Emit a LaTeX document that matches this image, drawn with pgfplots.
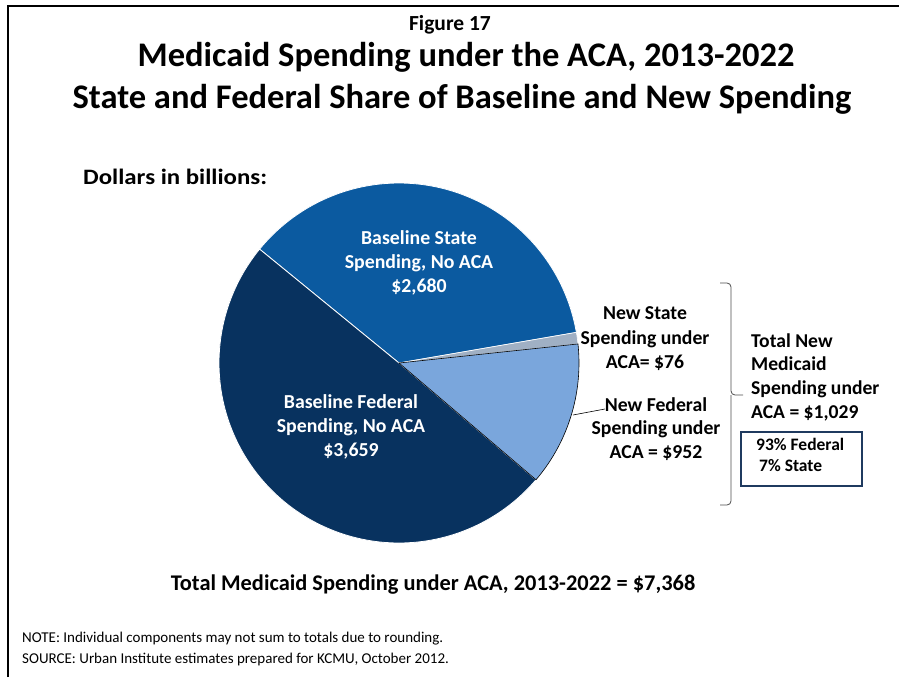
\documentclass[border=0pt]{standalone}
\usepackage{pgfplots}
\pgfplotsset{compat=1.18}
\usepackage{pgfplotstable}
\usepackage{fontspec}
\setmainfont{Carlito}
\definecolor{bsblue}{HTML}{0B5AA0}
\definecolor{bfnavy}{HTML}{08325F}
\definecolor{nfblue}{HTML}{7AA6DC}
\definecolor{nsgray}{HTML}{A0B0C4}
\definecolor{boxnavy}{HTML}{1F3A5F}
\pgfplotstableread{
name value
BS 2680
BF 3659
NF 952
NS 76
}\piedata
\begin{document}%
\begin{tikzpicture}
\pgfplotstablegetelem{0}{value}\of\piedata \edef\vA{\pgfplotsretval}
\pgfplotstablegetelem{1}{value}\of\piedata \edef\vB{\pgfplotsretval}
\pgfplotstablegetelem{2}{value}\of\piedata \edef\vC{\pgfplotsretval}
\pgfplotstablegetelem{3}{value}\of\piedata \edef\vD{\pgfplotsretval}
\pgfmathsetmacro\tot{\vA+\vB+\vC+\vD}
\pgfmathsetmacro\aA{9.8}
\pgfmathsetmacro\aB{\aA+360*(\vA/\tot)}
\pgfmathsetmacro\aC{\aB+360*(\vB/\tot)}
\pgfmathsetmacro\aD{\aC+360*(\vC/\tot)}
\pgfmathsetmacro\aE{\aD+360*(\vD/\tot)}
\path[use as bounding box] (0pt,0pt) rectangle (899pt,-677pt);
\draw[line width=2pt] (8pt,-677pt) -- (8pt,-6pt) -- (899pt,-6pt);
\begin{axis}[at={(399pt,-363pt)}, anchor=center, hide axis, scale only axis,
  width=360pt, height=360pt, xmin=-1, xmax=1, ymin=-1, ymax=1, clip=false]
\addplot[fill=bsblue, draw=white, line width=0.8pt, domain=\aA:\aB, samples=90, variable=\t]
  ({cos(\t)},{sin(\t)}) -- (axis cs:0,0) -- cycle;
\addplot[fill=bfnavy, draw=white, line width=0.8pt, domain=\aB:\aC, samples=120, variable=\t]
  ({cos(\t)},{sin(\t)}) -- (axis cs:0,0) -- cycle;
\addplot[fill=nsgray, draw=white, line width=0.6pt, domain=\aD:\aE, samples=10, variable=\t]
  ({cos(\t)},{sin(\t)}) -- (axis cs:0,0) -- cycle;
\addplot[fill=nfblue, draw=black, line width=0.6pt, domain=\aC:\aD, samples=40, variable=\t]
  ({cos(\t)},{sin(\t)}) -- (axis cs:0,0) -- cycle;
\end{axis}
\begin{scope}[x=1pt,y=-1pt]
\node[font=\fontsize{21.5}{24}\selectfont\bfseries] at (450,25) {Figure 17};
\node[font=\fontsize{34.5}{40}\selectfont\bfseries] at (466,57) {Medicaid Spending under the ACA, 2013-2022};
\node[font=\fontsize{34.5}{40}\selectfont\bfseries] at (462,99) {State and Federal Share of Baseline and New Spending};
\node[font=\fontsize{22}{26}\selectfont\bfseries\addfontfeature{FakeStretch=1.13}, anchor=west, inner sep=0pt] at (83,177) {Dollars in billions:};
\node[font=\fontsize{19.8}{24}\selectfont\bfseries, text=white, align=center] at (419,263) {Baseline State\\Spending, No ACA\\\$2,680};
\node[font=\fontsize{19.8}{24}\selectfont\bfseries, text=white, align=center] at (351,427) {Baseline Federal\\Spending, No ACA\\\$3,659};
\node[font=\fontsize{19.7}{24.5}\selectfont\bfseries, align=center] at (645,339) {New State\\Spending under\\ACA= \$76};
\node[font=\fontsize{19.7}{23.8}\selectfont\bfseries, align=center] at (656,429) {New Federal\\Spending under\\ACA = \$952};
\draw[black, line width=0.6pt] (573,415) -- (605,409);
\node[font=\fontsize{19.6}{23.7}\selectfont\bfseries, align=left, anchor=west, inner sep=0pt] at (751,377) {Total New\\Medicaid\\Spending under\\ACA = \$1,029};
\draw[black!70, line width=0.8pt, rounded corners=4pt] (720,283) -| (731,395) -- (743,395);
\draw[black!70, line width=0.8pt, rounded corners=4pt] (720,505) -| (731,395);
\draw[boxnavy, line width=1.3pt] (741,432) rectangle (862,486);
\node[font=\fontsize{17.5}{21}\selectfont\bfseries, anchor=west, inner sep=0pt] at (756,444) {93\% Federal};
\node[font=\fontsize{17.5}{21}\selectfont\bfseries, anchor=west, inner sep=0pt] at (759,466) {7\% State};
\node[font=\fontsize{22.4}{26}\selectfont\bfseries] at (433,585) {Total Medicaid Spending under ACA, 2013-2022 = \$7,368};
\node[font=\fontsize{15}{18}\selectfont, anchor=west, inner sep=0pt] at (22,639) {NOTE: Individual components may not sum to totals due to rounding.};
\node[font=\fontsize{15}{18}\selectfont, anchor=west, inner sep=0pt] at (22,659) {SOURCE: Urban Institute estimates prepared for KCMU, October 2012.};
\end{scope}
\end{tikzpicture}%
\end{document}
